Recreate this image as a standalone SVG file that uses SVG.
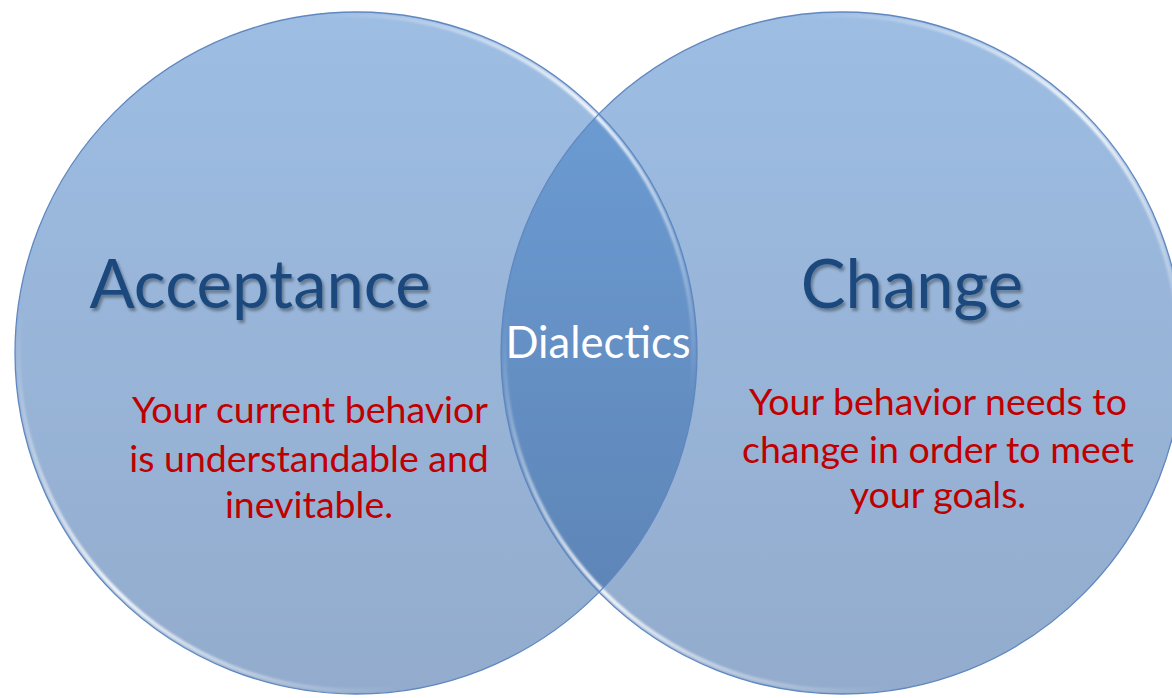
<svg xmlns="http://www.w3.org/2000/svg" width="1172" height="698" viewBox="0 0 1172 698">
  <defs>
    <linearGradient id="fillG" gradientUnits="userSpaceOnUse" x1="0" y1="12" x2="0" y2="694">
      <stop offset="0" stop-color="#9dbde3"/>
      <stop offset="1" stop-color="#93accd"/>
    </linearGradient>
    <linearGradient id="lensG" gradientUnits="userSpaceOnUse" x1="0" y1="109" x2="0" y2="597">
      <stop offset="0" stop-color="#6b9bd2"/>
      <stop offset="1" stop-color="#5e85b7"/>
    </linearGradient>
    <linearGradient id="hiG" x1="0" y1="0" x2="1" y2="1">
      <stop offset="0.22" stop-color="#ffffff" stop-opacity="0"/>
      <stop offset="0.5" stop-color="#ffffff" stop-opacity="0.9"/>
      <stop offset="0.78" stop-color="#ffffff" stop-opacity="0"/>
    </linearGradient>
    <filter id="blur" x="-5%" y="-5%" width="110%" height="110%">
      <feGaussianBlur stdDeviation="1.3"/>
    </filter>
    <filter id="shadow" x="-10%" y="-20%" width="120%" height="150%">
      <feDropShadow dx="2" dy="3" stdDeviation="1.5" flood-color="#000000" flood-opacity="0.35"/>
    </filter>
    <clipPath id="clipL">
      <circle cx="356" cy="353" r="341"/>
    </clipPath>
    <style>
      .circ { fill: url(#fillG); }
      .edge { fill: none; stroke: #5f87c0; stroke-width: 1.3; }
      .hi { fill: none; stroke: url(#hiG); stroke-width: 4; filter: url(#blur); }
      .title { font-family: Lato, "Open Sans", sans-serif; font-size: 67px; fill: #1f497d; text-anchor: middle; filter: url(#shadow); }
      .mid { font-family: Lato, "Open Sans", sans-serif; font-size: 43.5px; fill: #ffffff; text-anchor: middle; }
      .body { font-family: Lato, "Open Sans", sans-serif; font-size: 37.5px; fill: #c00000; text-anchor: middle; }
    </style>
  </defs>

  <g id="acceptance">
    <circle class="circ" cx="356" cy="353" r="341"/>
  </g>
  <g id="change">
    <circle class="circ" cx="842" cy="353" r="341"/>
  </g>
  <g id="dialectics">
    <circle cx="842" cy="353" r="341" fill="url(#lensG)" clip-path="url(#clipL)"/>
  </g>
  <g id="edges">
    <circle class="hi" cx="356" cy="353" r="337.5"/>
    <circle class="hi" cx="842" cy="353" r="337.5"/>
    <circle class="edge" cx="356" cy="353" r="341"/>
    <circle class="edge" cx="842" cy="353" r="341"/>
  </g>

  <g id="acceptance-text">
    <text class="title" x="260" y="308">Acceptance</text>
    <text class="body" x="310" y="423">Your current behavior</text>
    <text class="body" x="309" y="472">is understandable and</text>
    <text class="body" x="309" y="518">inevitable.</text>
  </g>
  <g id="change-text">
    <text class="title" x="912" y="308">Change</text>
    <text class="body" x="938" y="415">Your behavior needs to</text>
    <text class="body" x="938" y="463">change in order to meet</text>
    <text class="body" x="938" y="508">your goals.</text>
  </g>
  <g id="dialectics-text">
    <text class="mid" x="598" y="358">Dialectics</text>
  </g>
</svg>
